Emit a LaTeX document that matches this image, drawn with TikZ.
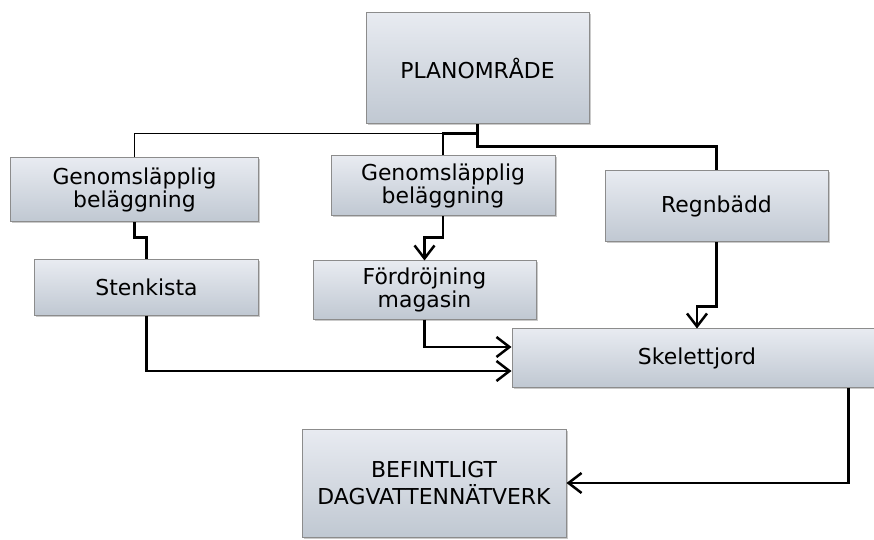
\documentclass[tikz,border=0pt]{standalone}
\usepackage{fontspec}
\setmainfont{DejaVu Sans}
\usetikzlibrary{calc,shadows,arrows.meta}

\definecolor{boxtop}{RGB}{232,235,241}
\definecolor{boxbot}{RGB}{192,200,210}
\definecolor{boxedge}{RGB}{140,140,140}

\tikzset{
    blk/.style={draw=boxedge, line width=1bp, top color=boxtop, bottom color=boxbot, align=center, inner sep=0pt,
        font=\fontsize{22}{23}\selectfont,
        drop shadow={shadow xshift=1.5bp, shadow yshift=-1.5bp, opacity=0.35, fill=black!60}},
    wire/.style={line width=2.5bp},
    flow/.style={wire, -{Straight Barb[length=13bp,width=20bp,line width=2.5bp]}}
}

\begin{document}
\begin{tikzpicture}[x=1bp, y=-1bp]
    	\useasboundingbox (0,0) rectangle (874,540);
    	% Boxes and wires:
    	\node[blk, minimum width=223bp, minimum height=111bp] (plan) at (477.5, 68.5) {PLANOMRÅDE};
    	\node[blk, minimum width=247bp, minimum height=64bp] (gen1) at (134.5, 190) {Genomsläpplig\\beläggning};
    	\node[blk, minimum width=224bp, minimum height=60bp] (gen2) at (443, 186) {Genomsläpplig\\beläggning};
    	\node[blk, minimum width=223bp, minimum height=71bp] (regn) at (716.5, 206.5) {Regnbädd};
    	\node[blk, minimum width=223bp, minimum height=55bp] (sten) at (146.5, 287.5) {Stenkista};
    	\node[blk, minimum width=223bp, minimum height=58bp] (ford) at (424.5, 290) {Fördröjning\\magasin};
    	\node[blk, minimum width=370bp, minimum height=58bp] (skel) at (697, 358) {Skelettjord};
    	\node[blk, minimum width=264bp, minimum height=108bp, font=\fontsize{22}{28}\selectfont] (bef) at (434, 483) {BEFINTLIGT\\DAGVATTENNÄTVERK};
    	\draw[line width=1.5bp] (plan.south) -- ++(0, 9) -| (gen1.north);
    	\draw[wire] (plan.south) -- ++(0, 9) -| (gen2.north);
    	\draw[wire] (plan.south) -- ++(0, 22) -| (regn.north);
    	\draw[wire] (gen1.south) -- ++(0, 15) -| (sten.north);
    	\draw[flow] (gen2.south) -- ++(0, 21) -| (ford.north);
    	\draw[flow] (regn.south) -- ++(0, 64) -| (skel.north);
    	\draw[flow] (ford.south) |- ($(skel.west)+(0, -11)$);
    	\draw[flow] (sten.south) |- ($(skel.west)+(0, 13)$);
    	\draw[flow] ($(skel.south east)+(-34, 0)$) |- (bef.east);
    \end{tikzpicture}
\end{document}
